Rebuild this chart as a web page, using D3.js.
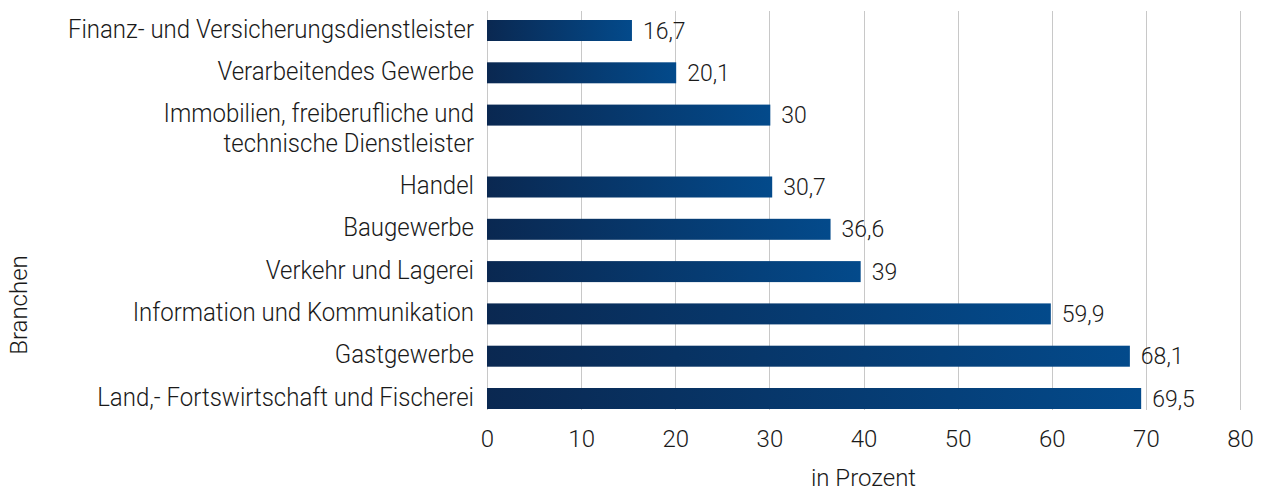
<!DOCTYPE html>
<html lang="de">

<head>
    <meta charset="UTF-8" />
    <title>Branchen in Prozent</title>
    <script src="https://d3js.org/d3.v7.js"></script>
    <style>
        body { margin: 0; background: #fff; }
        text { font-family: Roboto, "Liberation Sans", sans-serif; fill: #1a1a1a; }
        .light { font-weight: 300; }
    </style>
</head>

<body>
    <svg id="bar-chart"></svg>
</body>

<script>
    // data (top to bottom)
    var categories = [
        "Finanz- und Versicherungsdienstleister",
        "Verarbeitendes Gewerbe",
        "Immobilien, freiberufliche und\ntechnische Dienstleister",
        "Handel",
        "Baugewerbe",
        "Verkehr und Lagerei",
        "Information und Kommunikation",
        "Gastgewerbe",
        "Land,- Fortswirtschaft und Fischerei"
    ];
    // bar lengths as drawn in the picture
    var values = [15.4, 20.1, 30.1, 30.3, 36.5, 39.7, 59.9, 68.3, 69.5];
    // printed value labels
    var valueLabels = ["16,7", "20,1", "30", "30,7", "36,6", "39", "59,9", "68,1", "69,5"];
    var xTicks = [0, 10, 20, 30, 40, 50, 60, 70, 80];

    var width = 1261,
        height = 491;
    var squeeze = 0.96; // the label font is a bit condensed

    var svg = d3.select("#bar-chart")
        .attr("width", width)
        .attr("height", height);

    // gradient for the bars: dark on the left, lighter blue on the right
    var grad = svg.append("defs").append("linearGradient")
        .attr("id", "barGrad")
        .attr("x1", "0%").attr("x2", "100%")
        .attr("y1", "0%").attr("y2", "0%");
    grad.append("stop").attr("offset", "0%").attr("stop-color", "#0a2851");
    grad.append("stop").attr("offset", "100%").attr("stop-color", "#034a8b");

    // x scale
    var x = d3.scaleLinear()
        .domain([0, 80])
        .range([487, 1240]);

    // rows with a two-line label take more room, so stack row heights
    var rowUnits = categories.map(function (c) { return 1 + 0.7 * (c.split("\n").length - 1); });
    var offsets = [];
    var acc = 0;
    rowUnits.forEach(function (u) { offsets.push(acc); acc += u; });
    var y = d3.scaleLinear()
        .domain([0, acc - 1])
        .range([20, 388]);
    var barH = 21;

    var plotTop = 11,
        plotBottom = 410;

    // vertical grid lines
    svg.append("g")
        .selectAll("line")
        .data(xTicks)
        .enter()
        .append("line")
        .attr("x1", function (d) { return Math.round(x(d)) + 0.5; })
        .attr("x2", function (d) { return Math.round(x(d)) + 0.5; })
        .attr("y1", plotTop)
        .attr("y2", plotBottom)
        .attr("stroke", "#c8c8c8")
        .attr("stroke-width", 1);

    // bars
    svg.append("g")
        .selectAll("rect")
        .data(values)
        .enter()
        .append("rect")
        .attr("x", x(0))
        .attr("y", function (d, i) { return y(offsets[i]); })
        .attr("width", function (d) { return x(d) - x(0); })
        .attr("height", barH)
        .attr("fill", "url(#barGrad)");

    // value labels
    svg.append("g")
        .selectAll("text")
        .data(values)
        .enter()
        .append("text")
        .attr("x", function (d) { return x(d) + 11; })
        .attr("y", function (d, i) { return y(offsets[i]) + barH / 2 + 2; })
        .attr("dominant-baseline", "middle")
        .style("font-size", "23px")
        .style("font-weight", 300)
        .text(function (d, i) { return valueLabels[i]; });

    // category labels, right aligned, first line centred on the bar
    var cat = svg.append("g")
        .selectAll("text")
        .data(categories)
        .enter()
        .append("text")
        .attr("class", "light")
        .attr("text-anchor", "end")
        .attr("dominant-baseline", "middle")
        .style("font-size", "25px")
        .attr("transform", function (d, i) {
            return "translate(474," + (y(offsets[i]) + barH / 2 + 1) + ") scale(" + squeeze + ",1)";
        });
    cat.selectAll("tspan")
        .data(function (d) { return d.split("\n"); })
        .enter()
        .append("tspan")
        .attr("x", 0)
        .attr("dy", function (d, j) { return j === 0 ? 0 : 30; })
        .text(function (d) { return d; });

    // x axis tick labels
    var xAxis = svg.append("g")
        .attr("transform", "translate(0," + plotBottom + ")")
        .call(d3.axisBottom(x).tickValues(xTicks).tickSize(0).tickPadding(0));
    xAxis.select(".domain").remove();
    xAxis.selectAll("text")
        .attr("class", "light")
        .attr("dy", null)
        .attr("y", 37)
        .style("font-size", "24px")
        .style("font-family", "Roboto")
        .attr("fill", "#1a1a1a");

    // axis titles
    svg.append("text")
        .attr("class", "light")
        .attr("x", (x(0) + x(80)) / 2)
        .attr("y", 480)
        .attr("text-anchor", "middle")
        .attr("dominant-baseline", "middle")
        .style("font-size", "24px")
        .text("in Prozent");

    svg.append("text")
        .attr("class", "light")
        .attr("transform", "translate(21,305) rotate(-90)")
        .attr("text-anchor", "middle")
        .attr("dominant-baseline", "middle")
        .style("font-size", "24px")
        .text("Branchen");
</script>

</html>
